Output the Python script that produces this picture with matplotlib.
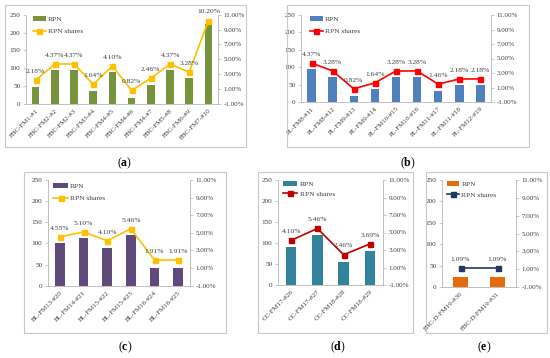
import matplotlib
matplotlib.use('Agg')
import matplotlib.pyplot as plt
from matplotlib.patches import Rectangle
from matplotlib.ticker import FuncFormatter

plt.rcParams['font.family'] = ['Liberation Serif', 'DejaVu Serif']
plt.rcParams['mathtext.fontset'] = 'custom'
plt.rcParams['mathtext.bf'] = 'Liberation Serif:bold'
plt.rcParams['mathtext.rm'] = 'Liberation Serif'

# ---------------- data ----------------
cats_a = ['FBC-FM1-#1', 'FBC-FM2-#2', 'FBC-FM2-#3', 'FBC-FM3-#4', 'FBC-FM4-#5',
          'FBC-FM4-#6', 'FBC-FM4-#7', 'FBC-FM5-#8', 'FBC-FM6-#9', 'FBC-FM7-#10']
rpn_a = [48, 96, 96, 36, 90, 18, 54, 96, 72, 224]
share_a = [2.18, 4.37, 4.37, 1.64, 4.10, 0.82, 2.46, 4.37, 3.28, 10.20]

cats_b = ['PL-FM8-#11', 'PL-FM8-#12', 'PL-FM9-#13', 'PL-FM9-#14', 'PL-FM10-#15',
          'PL-FM10-#16', 'PL-FM11-#17', 'PL-FM11-#18', 'PL-FM12-#19']
rpn_b = [96, 72, 18, 36, 72, 72, 32, 48, 48]
share_b = [4.37, 3.28, 0.82, 1.64, 3.28, 3.28, 1.46, 2.18, 2.18]

cats_c = ['BL-FM13-#20', 'BL-FM14-#21', 'BL-FM15-#22', 'BL-FM15-#23',
          'BL-FM16-#24', 'BL-FM16-#25']
rpn_c = [100, 112, 90, 120, 42, 42]
share_c = [4.55, 5.10, 4.10, 5.46, 1.91, 1.91]

cats_d = ['CC-FM17-#26', 'CC-FM17-#27', 'CC-FM18-#28', 'CC-FM18-#29']
rpn_d = [90, 120, 54, 81]
share_d = [4.10, 5.46, 2.46, 3.69]

cats_e = ['FBC-D-FM19-#30', 'FBC-D-FM19-#31']
rpn_e = [24, 24]
share_e = [1.09, 1.09]

left_ticks = [0, 50, 100, 150, 200, 250]
right_ticks = [-1, 1, 3, 5, 7, 9, 11]

# ---------------- figure ----------------
W, H = 550, 358
fig = plt.figure(figsize=(W / 100, H / 100), dpi=100)

AXC = '#B5B5B5'
TXC = '#404040'


def frame(x0, y0, x1, y1):
    fig.patches.append(Rectangle((x0 / W, 1 - y1 / H), (x1 - x0) / W, (y1 - y0) / H,
                                 transform=fig.transFigure, fill=False,
                                 edgecolor='#C8C8C8', lw=0.8))


def panel(rect, cats, rpn, share, bar_color, line_color, leg_xy, leg_space, handlelen):
    x0, y0, x1, y1 = rect
    ax = fig.add_axes([x0 / W, 1 - y1 / H, (x1 - x0) / W, (y1 - y0) / H])
    xs = list(range(len(cats)))
    bars = ax.bar(xs, rpn, width=0.4, color=bar_color, zorder=2, label='RPN')
    ax.set_xlim(-0.5, len(cats) - 0.5)
    ax.set_ylim(0, 250)
    ax.set_yticks(left_ticks)
    ax.set_xticks(xs)
    ax.set_xticklabels(cats, rotation=45, ha='right', va='top',
                       rotation_mode='anchor', fontsize=5, color=TXC)
    ax.tick_params(axis='x', length=0, pad=3)
    ax.tick_params(axis='y', length=2, width=0.5, color=AXC, labelsize=5.2,
                   labelcolor=TXC, pad=2)
    for s in ['top', 'right']:
        ax.spines[s].set_visible(False)
    for s in ['left', 'bottom']:
        ax.spines[s].set_color(AXC)
        ax.spines[s].set_linewidth(0.6)

    ax2 = ax.twinx()
    line, = ax2.plot(xs, share, color=line_color, marker='s', markersize=3.6,
                     lw=1.2, zorder=3, label='RPN shares', clip_on=False)
    ax2.set_ylim(-1, 11)
    ax2.set_yticks(right_ticks)
    ax2.yaxis.set_major_formatter(FuncFormatter(lambda v, p: f'{v:.2f}%'))
    ax2.tick_params(axis='y', length=2, width=0.5, color=AXC, labelsize=5,
                    labelcolor=TXC, pad=2)
    for s in ['top', 'left', 'bottom']:
        ax2.spines[s].set_visible(False)
    ax2.spines['right'].set_color(AXC)
    ax2.spines['right'].set_linewidth(0.6)

    for xi, v in zip(xs, share):
        ax2.annotate(f'{v:.2f}%', (xi, v), xytext=(0, 4.5), textcoords='offset points',
                     ha='center', va='bottom', fontsize=5.4, color=TXC,
                     annotation_clip=False)

    ax2.legend([bars, line], ['RPN', 'RPN shares'], loc='upper left',
               bbox_to_anchor=(leg_xy[0] / W, 1 - leg_xy[1] / H),
               bbox_transform=fig.transFigure, frameon=False, fontsize=5.4,
               borderpad=0, borderaxespad=0, handlelength=handlelen,
               handleheight=0.55, handletextpad=0.3, labelspacing=leg_space,
               labelcolor=TXC)
    return ax, ax2


frame(5, 5, 246, 147)
frame(287, 5, 529, 147)
frame(24, 172, 226, 333)
frame(258, 172, 413, 333)
frame(426, 172, 547, 333)

panel((26, 14.7, 218, 104), cats_a, rpn_a, share_a, '#77933C', '#FFC000',
      (33, 16.5), 0.8, 1.7)
panel((301, 15, 491, 102), cats_b, rpn_b, share_b, '#4F81BD', '#FF0000',
      (310, 16.5), 0.8, 1.7)
panel((48, 180, 190, 285.7), cats_c, rpn_c, share_c, '#604A7B', '#FFC000',
      (53, 183), 0.85, 2.0)
panel((278, 180, 383, 285), cats_d, rpn_d, share_d, '#31849B', '#C00000',
      (283, 181.5), 0.45, 1.9)
panel((442, 180, 516, 287), cats_e, rpn_e, share_e, '#E46C0A', '#1F3864',
      (447, 181.5), 0.6, 1.6)

for lbl, x, y in [('a', 125, 163), ('b', 408, 163), ('c', 125, 347),
                  ('d', 338, 347), ('e', 484, 347)]:
    fig.text(x / W, 1 - y / H, r'($\mathbf{' + lbl + r'}$)', ha='center', va='center',
             fontsize=8.5, color='black')

fig.savefig('out.png', dpi=100)
